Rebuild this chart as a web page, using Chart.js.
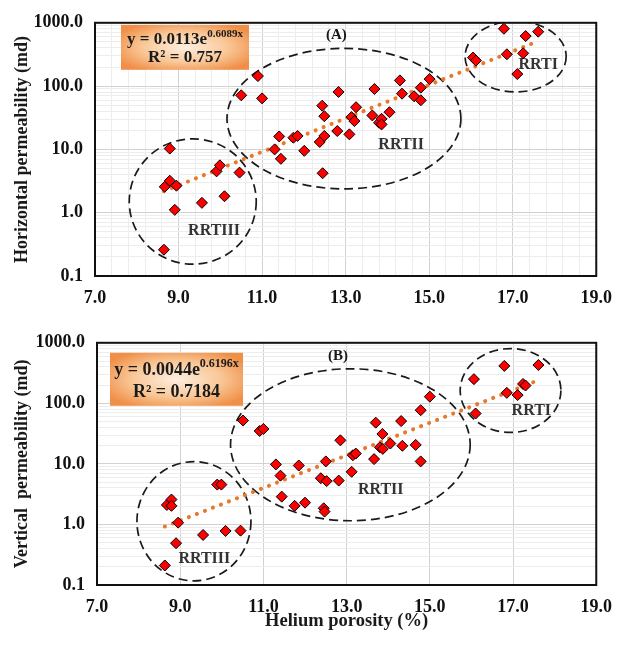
<!DOCTYPE html>
<html>
<head>
<meta charset="utf-8">
<script src="https://cdn.jsdelivr.net/npm/chart.js@4.4.1/dist/chart.umd.min.js"></script>
<style>
  body { margin: 0; background: #fff; }
  .wrap { position: absolute; left: 0; width: 624px; }
  #wrapA { top: 0; height: 320px; }
  #wrapB { top: 320px; height: 325px; }
</style>
</head>
<body>
<div class="wrap" id="wrapA"><canvas id="chartA" width="624" height="320"></canvas></div>
<div class="wrap" id="wrapB"><canvas id="chartB" width="624" height="325"></canvas></div>
<script>
// tick labels
const xTicksMajor = [7, 9, 11, 13, 15, 17, 19];
const yTicksMajor = [0.1, 1, 10, 100, 1000];

// (A) helium porosity (%) vs horizontal permeability (md)
const porosityA = [8.65, 8.67, 8.79, 8.79, 8.91, 8.95, 9.56, 9.91, 9.99, 10.10, 10.46, 10.50, 10.90, 11.00,
  11.30, 11.41, 11.45, 11.75, 11.85, 12.01, 12.38, 12.44, 12.45, 12.49, 12.49, 12.80, 12.83, 13.09, 13.14,
  13.21, 13.25, 13.64, 13.69, 13.80, 13.86, 13.86, 14.05, 14.30, 14.35, 14.64, 14.80, 14.80, 15.01, 16.05,
  16.12, 16.79, 16.86, 17.11, 17.25, 17.31, 17.61];
const khA = [0.26, 2.57, 10.3, 3.2, 1.11, 2.67, 1.43, 4.5, 5.6, 1.82, 4.3, 71.6, 144, 64,
  10.0, 16.0, 7.1, 15.3, 16.3, 9.5, 13.1, 49, 4.2, 33.5, 16.3, 19.5, 80.8, 17.3, 32.4,
  28, 46.4, 34.4, 90, 26.4, 30.4, 24.8, 38.7, 123, 76, 69, 94.6, 59.7, 129, 282,
  253, 805, 318, 155, 330, 617, 723];

// (B) helium porosity (%) vs vertical permeability (md)
const porosityB = [8.63, 8.68, 8.79, 8.79, 8.90, 8.95, 9.55, 9.89, 9.99, 10.09, 10.45, 10.51, 10.91, 11.00,
  11.30, 11.41, 11.44, 11.75, 11.85, 12.00, 12.38, 12.45, 12.47, 12.50, 12.52, 12.81, 12.85, 13.12, 13.15,
  13.22, 13.66, 13.70, 13.80, 13.86, 13.87, 14.05, 14.31, 14.34, 14.66, 14.78, 14.78, 15.00, 16.06, 16.10,
  16.79, 16.85, 17.11, 17.24, 17.30, 17.61];
const kvB = [0.21, 2.1, 2.58, 2.03, 0.49, 1.07, 0.67, 4.55, 4.55, 0.78, 0.79, 52, 35, 37.8,
  9.8, 6.4, 2.88, 2.03, 9.4, 2.29, 5.8, 1.85, 1.63, 11, 5.2, 5.3, 24.5, 7.4, 13.9,
  14.8, 12, 48, 18.8, 31.2, 17.7, 21.7, 51, 19.9, 20.6, 77, 11, 129, 251, 68,
  415, 149, 137, 209, 197, 430];

// exponential fits  y = a * e^(b x)
const fitA = { a: 0.0113, b: 0.6089, eq: ['y = 0.0113e', '0.6089x'], r2: 'R\u00b2 = 0.757' };
const fitB = { a: 0.0044, b: 0.6196, eq: ['y = 0.0044e', '0.6196x'], r2: 'R\u00b2 = 0.7184' };

// rock type groupings (centre in data units, ry in decades)
const groupsA = [
  { name: 'RRTIII', cx: 9.34, cy: 1.5, rx: 1.52, ry: 0.99, lx: 9.85, ly: 0.52 },
  { name: 'RRTII', cx: 12.96, cy: 30.6, rx: 2.8, ry: 1.11, lx: 14.33, ly: 11.7 },
  { name: 'RRTI', cx: 17.07, cy: 293, rx: 1.21, ry: 0.56, lx: 17.61, ly: 219 }
];
const groupsB = [
  { name: 'RRTIII', cx: 9.33, cy: 1.13, rx: 1.37, ry: 0.985, lx: 9.58, ly: 0.27 },
  { name: 'RRTII', cx: 13.09, cy: 20.7, rx: 2.88, ry: 1.255, lx: 13.82, ly: 3.7 },
  { name: 'RRTI', cx: 16.94, cy: 163, rx: 1.21, ry: 0.693, lx: 17.44, ly: 75 }
];

const SERIF = '"Liberation Serif", "Times New Roman", serif';

function isDecade(v) {
  const l = Math.log10(v);
  return Math.abs(l - Math.round(l)) < 1e-6;
}
function yTickValues() {
  const t = [];
  yTicksMajor.forEach((d, i) => {
    t.push(d);
    if (i < yTicksMajor.length - 1) {
      for (let m = 2; m < 10; m++) t.push(+(d * m).toPrecision(3));
    }
  });
  return t;
}
function xTickValues(minorPerMajor) {
  const t = [];
  xTicksMajor.forEach((v, i) => {
    t.push(v);
    if (i < xTicksMajor.length - 1) {
      const step = (xTicksMajor[i + 1] - v) / minorPerMajor;
      for (let k = 1; k < minorPerMajor; k++) t.push(+(v + k * step).toFixed(3));
    }
  });
  return t;
}
const isXMajor = v => xTicksMajor.some(m => Math.abs(m - v) < 1e-6);

function makeOverlay(groups, fit, tag, box) {
  return {
    id: 'overlay' + tag,
    beforeDatasetsDraw(chart) {
      const { ctx, chartArea: a, scales: { x, y } } = chart;
      ctx.save();
      ctx.beginPath();
      ctx.rect(a.left, a.top, a.right - a.left, a.bottom - a.top);
      ctx.clip();
      // dashed ellipses
      ctx.setLineDash([9, 5]);
      ctx.lineWidth = 1.7;
      ctx.strokeStyle = '#1a1a1a';
      groups.forEach(g => {
        const cx = x.getPixelForValue(g.cx), cy = y.getPixelForValue(g.cy);
        const rx = x.getPixelForValue(g.cx + g.rx) - cx;
        const ry = cy - y.getPixelForValue(g.cy * Math.pow(10, g.ry));
        ctx.beginPath();
        ctx.ellipse(cx, cy, rx, ry, 0, 0, Math.PI * 2);
        ctx.stroke();
      });
      ctx.setLineDash([]);

      // group labels
      ctx.fillStyle = '#333';
      ctx.font = 'bold 16px ' + SERIF;
      ctx.textAlign = 'center';
      ctx.textBaseline = 'middle';
      groups.forEach(g => ctx.fillText(g.name, x.getPixelForValue(g.lx), y.getPixelForValue(g.ly)));
      ctx.fillStyle = '#1a1a1a';
      ctx.font = 'bold 15px ' + SERIF;
      ctx.fillText(tag, x.getPixelForValue(box.tagX), y.getPixelForValue(box.tagY));

      // equation box
      const bx = a.left + box.dx, by = a.top + box.dy;
      ctx.save();
      ctx.translate(bx + box.w / 2, by + box.h / 2);
      ctx.scale(box.w / 2, box.h / 2);
      const grad = ctx.createRadialGradient(0, 0, 0, 0, 0, 1.2);
      grad.addColorStop(0, '#fdeedf');
      grad.addColorStop(0.55, '#f9c899');
      grad.addColorStop(1, '#f09048');
      ctx.fillStyle = grad;
      ctx.fillRect(-1, -1, 2, 2);
      ctx.restore();

      ctx.fillStyle = '#1a1a1a';
      ctx.textBaseline = 'middle';
      ctx.textAlign = 'left';
      const big = 'bold ' + box.fs + 'px ' + SERIF;
      const sup = 'bold ' + Math.round(box.fs * 0.65) + 'px ' + SERIF;
      ctx.font = big;
      const w1 = ctx.measureText(fit.eq[0]).width;
      ctx.font = sup;
      const w2 = ctx.measureText(fit.eq[1]).width;
      let tx = bx + (box.w - w1 - w2) / 2;
      const l1 = by + box.h * 0.33, l2 = by + box.h * 0.74;
      ctx.font = big;
      ctx.fillText(fit.eq[0], tx, l1);
      ctx.font = sup;
      ctx.fillText(fit.eq[1], tx + w1, l1 - box.fs * 0.35);
      ctx.font = big;
      ctx.textAlign = 'center';
      ctx.fillText(fit.r2, bx + box.w / 2, l2);
      ctx.restore();
    },
    afterDatasetsDraw(chart) {
      const { ctx, chartArea: a } = chart;
      ctx.save();
      ctx.strokeStyle = '#111';
      ctx.lineWidth = 2;
      ctx.strokeRect(a.left, a.top, a.right - a.left, a.bottom - a.top);
      ctx.restore();
    }
  };
}

function makeChart(id, xs, ys, fit, groups, tag, opt) {
  const pts = xs.map((v, i) => ({ x: v, y: ys[i] }));
  const xmin = Math.min(...xs), xmax = Math.max(...xs);
  const trend = [xmin, xmax].map(v => ({ x: v, y: fit.a * Math.exp(fit.b * v) }));
  return new Chart(document.getElementById(id), {
    type: 'scatter',
    data: {
      datasets: [{
        data: pts,
        pointStyle: 'rectRot',
        pointRadius: 5.5,
        pointBackgroundColor: '#ff0000',
        pointBorderColor: '#000',
        pointBorderWidth: 1,
        order: 1
      }, {
        type: 'line',
        data: trend,
        showLine: true,
        borderColor: '#e8782a',
        borderWidth: 4,
        borderDash: [0.1, 8.5],
        borderCapStyle: 'round',
        pointRadius: 0,
        order: 2
      }]
    },
    options: {
      responsive: false,
      animation: false,
      layout: { padding: { top: opt.padTop, right: 20, left: 0, bottom: 0 } },
      plugins: { legend: { display: false }, tooltip: { enabled: false } },
      scales: {
        x: {
          type: 'linear',
          min: 7, max: 19,
          afterBuildTicks: s => { s.ticks = xTickValues(opt.xMinor).map(v => ({ value: v })); },
          afterFit: s => { s.height = opt.xAxisH; },
          grid: {
            drawTicks: false,
            color: c => (c.tick && isXMajor(c.tick.value)) ? '#d2d2d2' : '#ededed'
          },
          border: { display: false },
          ticks: {
            autoSkip: false,
            maxRotation: 0,
            padding: 12,
            color: '#111',
            font: { family: SERIF, size: 18, weight: 'bold' },
            callback: v => isXMajor(v) ? v.toFixed(1) : ''
          },
          title: {
            display: !!opt.xTitle,
            text: opt.xTitle || '',
            color: '#1a1a1a',
            font: { family: SERIF, size: 18.5, weight: 'bold' },
            padding: { top: 0, bottom: 13 }
          }
        },
        y: {
          type: 'logarithmic',
          min: 0.1, max: 1000,
          afterBuildTicks: s => { s.ticks = yTickValues().map(v => ({ value: v })); },
          afterFit: s => { s.width = opt.yAxisW; },
          grid: {
            drawTicks: false,
            color: c => (c.tick && isDecade(c.tick.value)) ? '#d2d2d2' : '#ededed'
          },
          border: { display: false },
          ticks: {
            autoSkip: false,
            padding: 12,
            color: '#111',
            font: { family: SERIF, size: 18, weight: 'bold' },
            callback: v => isDecade(v) ? v.toFixed(1) : ''
          },
          title: {
            display: true,
            text: opt.yTitle,
            color: '#1a1a1a',
            font: { family: SERIF, size: 18, weight: 'bold' },
            padding: { top: 12, bottom: 0 }
          }
        }
      }
    },
    plugins: [makeOverlay(groups, fit, tag, opt.box)]
  });
}

makeChart('chartA', porosityA, khA, fitA, groupsA, '(A)', {
  padTop: 21, xAxisH: 44, yAxisW: 95, xMinor: 5,
  yTitle: 'Horizontal permeability (md)',
  box: { dx: 26, dy: 2, w: 128, h: 45, fs: 17, tagX: 12.78, tagY: 646 }
});
makeChart('chartB', porosityB, kvB, fitB, groupsB, '(B)', {
  padTop: 10, xAxisH: 60, yAxisW: 97, xMinor: 1,
  yTitle: 'Vertical  permeability (md)',
  xTitle: 'Helium porosity (%)',
  box: { dx: 13, dy: 10, w: 133, h: 53, fs: 18, tagX: 12.79, tagY: 603 }
});
</script>
</body>
</html>
